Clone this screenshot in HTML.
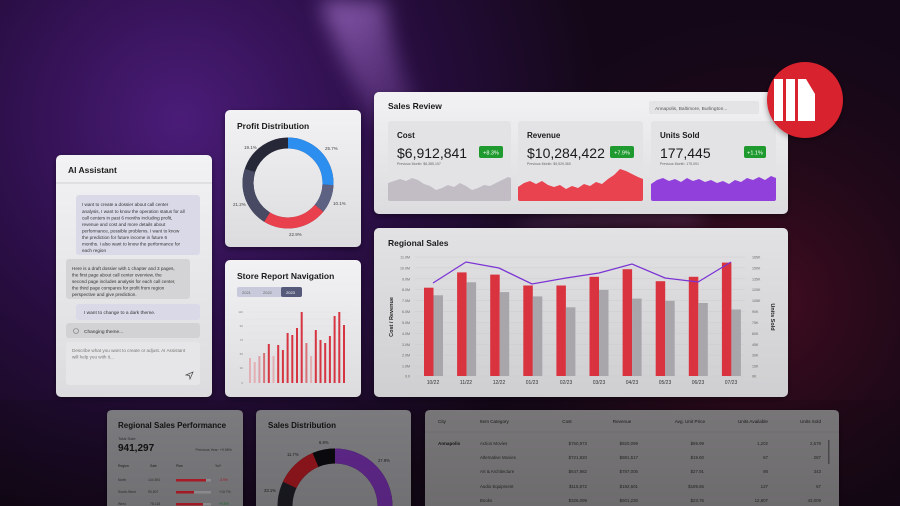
<!DOCTYPE html>
<html><head><meta charset="utf-8"><style>
html,body{margin:0;padding:0;width:900px;height:506px;overflow:hidden;background:#150816}
svg{display:block}
text{font-family:"Liberation Sans",sans-serif}
</style></head><body>
<svg width="900" height="506" viewBox="0 0 900 506" xmlns="http://www.w3.org/2000/svg">
<defs>
<radialGradient id="bgL" cx="180" cy="120" r="420" gradientUnits="userSpaceOnUse">
<stop offset="0" stop-color="#4a1c78"/><stop offset="0.5" stop-color="#2a0e45"/><stop offset="1" stop-color="#140818"/></radialGradient>
<radialGradient id="bgR" cx="760" cy="300" r="300" gradientUnits="userSpaceOnUse">
<stop offset="0" stop-color="#4a0d22" stop-opacity="0.9"/><stop offset="1" stop-color="#1a0814" stop-opacity="0"/></radialGradient>
<linearGradient id="streak" x1="0" y1="0" x2="0.6" y2="1">
<stop offset="0" stop-color="#9a6ac0" stop-opacity="0.85"/><stop offset="1" stop-color="#5a2a80" stop-opacity="0"/></linearGradient>
<filter id="blur"><feGaussianBlur stdDeviation="10"/></filter>
<filter id="sh"><feDropShadow dx="0" dy="2" stdDeviation="3" flood-color="#000" flood-opacity="0.4"/></filter>
<linearGradient id="card" x1="0" y1="0" x2="0" y2="1"><stop offset="0" stop-color="#f2f2f4"/><stop offset="1" stop-color="#dcdcdf"/></linearGradient>
<linearGradient id="card2" x1="0" y1="0" x2="0" y2="1"><stop offset="0" stop-color="#e2e2e4"/><stop offset="1" stop-color="#cfcfd2"/></linearGradient>
<linearGradient id="dim" x1="0" y1="0" x2="0" y2="1"><stop offset="0" stop-color="#000" stop-opacity="0.3"/><stop offset="1" stop-color="#000" stop-opacity="0.55"/></linearGradient>
</defs>
<rect width="900" height="506" fill="url(#bgL)"/>
<rect width="900" height="506" fill="url(#bgR)"/>
<path d="M320 0 L385 0 Q400 120 500 230 L470 235 Q360 130 320 0Z" fill="url(#streak)" filter="url(#blur)"/>
<path d="M520 225 Q600 200 700 210 L700 222 Q600 215 520 232Z" fill="#b070c0" opacity="0.35" filter="url(#blur)"/>

<!-- AI Assistant -->
<g filter="url(#sh)"><rect x="56" y="155" width="156" height="242" rx="5" fill="url(#card)"/></g>
<text x="68" y="173" font-size="8.5" font-weight="bold" fill="#1a1a1a">AI Assistant</text>
<line x1="56" y1="183" x2="212" y2="183" stroke="#d0d0d4"/>
<rect x="76" y="195" width="124" height="60" rx="3" fill="#d9d9e8"/>
<g font-size="4.6" fill="#333">
<text x="82" y="206">I want to create a dossier about call center</text>
<text x="82" y="213">analysis, I want to know the operation status for all</text>
<text x="82" y="219.5">call centers in past 6 months including profit,</text>
<text x="82" y="226">revenue and cost and more details about</text>
<text x="82" y="232.5">performance, possible problems. I want to know</text>
<text x="82" y="239">the prediction for future income in future 6</text>
<text x="82" y="245.5">months. I also want to know the performance for</text>
<text x="82" y="252">each region</text>
</g>
<rect x="66" y="259" width="124" height="40" rx="3" fill="#d4d4d6"/>
<g font-size="4.6" fill="#333">
<text x="72" y="270">Here is a draft dossier with 1 chapter and 3 pages,</text>
<text x="72" y="276.5">the first page about call center overview, the</text>
<text x="72" y="283">second page includes analysis for each call center,</text>
<text x="72" y="289.5">the third page compares for profit from region</text>
<text x="72" y="296">perspective and give prediction.</text>
</g>
<rect x="76" y="304" width="124" height="16" rx="3" fill="#d9d9e8"/>
<text x="84" y="314" font-size="4.8" fill="#333">I want to change to a dark theme.</text>
<rect x="66" y="323" width="134" height="15" rx="3" fill="#d2d2d4"/>
<circle cx="76" cy="331" r="2.5" fill="none" stroke="#777" stroke-width="0.6"/>
<text x="84" y="333" font-size="4.8" fill="#333">Changing theme...</text>
<rect x="66" y="342" width="134" height="43" rx="3" fill="#e6e6e8"/>
<text x="72" y="352" font-size="4.6" fill="#777">Describe what you want to create or adjust. AI Assistant</text>
<text x="72" y="358.5" font-size="4.6" fill="#777">will help you with it...</text>
<path d="M186 375 L193 372 L190 379 L189.5 375.5Z" fill="none" stroke="#444" stroke-width="0.7"/>

<!-- Profit Distribution -->
<g filter="url(#sh)"><rect x="225" y="110" width="136" height="137" rx="5" fill="url(#card)"/></g>
<text x="237" y="129" font-size="8.5" font-weight="bold" fill="#1a1a1a">Profit Distribution</text>
<g transform="rotate(-90 288 183)" fill="none" stroke-width="11">
<circle cx="288" cy="183" r="40" stroke="#262838"/>
<circle cx="288" cy="183" r="40" stroke="#2c8ff0" stroke-dasharray="64.6 251.3"/>
<circle cx="288" cy="183" r="40" stroke="#5d6282" stroke-dasharray="0 64.6 25.4 251.3"/>
<circle cx="288" cy="183" r="40" stroke="#e8404c" stroke-dasharray="0 90 57.6 251.3"/>
<circle cx="288" cy="183" r="40" stroke="#474a62" stroke-dasharray="0 147.6 53.3 251.3"/>
</g>
<g font-size="4.5" fill="#444">
<text x="244" y="149">19.1%</text><text x="325" y="150">25.7%</text>
<text x="233" y="206">21.2%</text><text x="333" y="205">10.1%</text><text x="289" y="236">22.9%</text>
</g>

<!-- Store Report Navigation -->
<g filter="url(#sh)"><rect x="225" y="260" width="136" height="137" rx="5" fill="url(#card)"/></g>
<text x="237" y="279" font-size="8.5" font-weight="bold" fill="#1a1a1a">Store Report Navigation</text>
<rect x="237" y="287" width="65" height="10" rx="2" fill="#c8cadb"/>
<rect x="281" y="287" width="21" height="10" rx="2" fill="#55597a"/>
<g font-size="4" fill="#666"><text x="242" y="294">2021</text><text x="263" y="294">2022</text></g>
<text x="286" y="294" font-size="4" fill="#fff">2023</text>
<g stroke="#e0e0e2" stroke-width="0.4">
<line x1="246" y1="312" x2="348" y2="312"/><line x1="246" y1="319" x2="348" y2="319"/><line x1="246" y1="326" x2="348" y2="326"/><line x1="246" y1="333" x2="348" y2="333"/><line x1="246" y1="340" x2="348" y2="340"/><line x1="246" y1="347" x2="348" y2="347"/><line x1="246" y1="354" x2="348" y2="354"/><line x1="246" y1="361" x2="348" y2="361"/><line x1="246" y1="368" x2="348" y2="368"/><line x1="246" y1="375" x2="348" y2="375"/><line x1="246" y1="383" x2="348" y2="383"/>
</g>
<g font-size="3" fill="#888" text-anchor="end">
<text x="243" y="313">110</text><text x="243" y="327">90</text><text x="243" y="341">70</text><text x="243" y="355">50</text><text x="243" y="369">30</text><text x="243" y="384">0</text>
</g>
<g>
<rect x="249" y="358" width="2" height="25" fill="#e2b0b4"/>
<rect x="253.7" y="362" width="2" height="21" fill="#e2b0b4"/>
<rect x="258.4" y="356" width="2" height="27" fill="#dca0a6"/>
<rect x="263.1" y="353" width="2" height="30" fill="#d87078"/>
<rect x="267.8" y="344" width="2" height="39" fill="#d63440"/>
<rect x="272.5" y="356" width="2" height="27" fill="#e2b0b4"/>
<rect x="277.2" y="345" width="2" height="38" fill="#d63440"/>
<rect x="281.9" y="350" width="2" height="33" fill="#d63440"/>
<rect x="286.6" y="333" width="2" height="50" fill="#d63440"/>
<rect x="291.3" y="335" width="2" height="48" fill="#d63440"/>
<rect x="296" y="328" width="2" height="55" fill="#d63440"/>
<rect x="300.7" y="312" width="2" height="71" fill="#d63440"/>
<rect x="305.4" y="343" width="2" height="40" fill="#d87078"/>
<rect x="310.1" y="356" width="2" height="27" fill="#e2b0b4"/>
<rect x="314.8" y="330" width="2" height="53" fill="#d63440"/>
<rect x="319.5" y="340" width="2" height="43" fill="#d63440"/>
<rect x="324.2" y="343" width="2" height="40" fill="#d63440"/>
<rect x="328.9" y="336" width="2" height="47" fill="#d63440"/>
<rect x="333.6" y="316" width="2" height="67" fill="#d63440"/>
<rect x="338.3" y="312" width="2" height="71" fill="#d63440"/>
<rect x="343" y="325" width="2" height="58" fill="#d63440"/>
</g>

<!-- Sales Review -->
<g filter="url(#sh)"><rect x="374" y="92" width="414" height="122" rx="5" fill="url(#card)"/></g>
<text x="388" y="109" font-size="8.5" font-weight="bold" fill="#1a1a1a">Sales Review</text>
<rect x="649" y="101" width="110" height="13" rx="2" fill="#e4e4e6"/>
<text x="655" y="110" font-size="4.8" fill="#555">Annapolis, Baltimore, Burlington...</text>
<rect x="388" y="121" width="123" height="80" rx="3" fill="#e3e3e6"/>
<rect x="518" y="121" width="125" height="80" rx="3" fill="#e3e3e6"/>
<rect x="651" y="121" width="125" height="80" rx="3" fill="#e3e3e6"/>
<g font-size="8" font-weight="bold" fill="#1a1a1a"><text x="397" y="138">Cost</text><text x="527" y="138">Revenue</text><text x="660" y="138">Units Sold</text></g>
<g font-size="14" fill="#1a1a1a"><text x="397" y="158">$6,912,841</text><text x="527" y="158">$10,284,422</text><text x="660" y="158">177,445</text></g>
<g font-size="3.5" fill="#666"><text x="397" y="165">Previous Month: $6,385,107</text><text x="527" y="165">Previous Month: $9,529,360</text><text x="660" y="165">Previous Month: 175,091</text></g>
<rect x="479" y="146" width="24" height="12" rx="2" fill="#1e9a2e"/><text x="491" y="154.5" font-size="5.5" fill="#fff" text-anchor="middle">+8.3%</text>
<rect x="610" y="146" width="24" height="12" rx="2" fill="#1e9a2e"/><text x="622" y="154.5" font-size="5.5" fill="#fff" text-anchor="middle">+7.9%</text>
<rect x="744" y="146" width="22" height="12" rx="2" fill="#1e9a2e"/><text x="755" y="154.5" font-size="5.5" fill="#fff" text-anchor="middle">+1.1%</text>
<path d="M388 183 L394 181 L400 179 L406 181 L412 178 L418 180 L424 184 L430 186 L436 190 L442 188 L448 185 L454 187 L460 183 L466 186 L472 190 L478 188 L484 185 L490 186 L496 183 L502 180 L508 177 L511 178 L511 199 Q511 201 509 201 L390 201 Q388 201 388 199Z" fill="#c2bcc4"/>
<path d="M518 187 L524 183 L530 181 L536 184 L542 181 L548 185 L554 187 L560 185 L566 189 L572 186 L578 188 L584 184 L590 186 L596 182 L602 184 L608 179 L614 175 L620 169 L626 171 L632 174 L638 177 L643 179 L643 199 Q643 201 641 201 L520 201 Q518 201 518 199Z" fill="#e8434f"/>
<path d="M651 184 L657 180 L663 178 L669 181 L675 179 L681 182 L687 178 L693 181 L699 179 L705 182 L711 180 L717 183 L723 181 L729 184 L735 180 L741 182 L747 178 L753 180 L759 177 L765 180 L771 176 L776 178 L776 199 Q776 201 774 201 L653 201 Q651 201 651 199Z" fill="#9140dc"/>

<!-- Logo -->
<circle cx="805" cy="100" r="38" fill="#d8202e" filter="url(#sh)"/>
<rect x="774" y="79" width="9" height="42" fill="#fff"/>
<rect x="786" y="79" width="9" height="42" fill="#fff"/>
<path d="M798 79 L806 79 L815 94 L815 121 L798 121Z" fill="#fff"/>

<!-- Regional Sales -->
<g filter="url(#sh)"><rect x="374" y="228" width="414" height="169" rx="5" fill="url(#card2)"/></g>
<text x="388" y="246" font-size="8.5" font-weight="bold" fill="#1a1a1a">Regional Sales</text>
<g stroke="#c9c9cc" stroke-width="0.4">
<line x1="415" y1="257" x2="745" y2="257"/><line x1="415" y1="267.9" x2="745" y2="267.9"/><line x1="415" y1="278.8" x2="745" y2="278.8"/><line x1="415" y1="289.7" x2="745" y2="289.7"/><line x1="415" y1="300.6" x2="745" y2="300.6"/><line x1="415" y1="311.5" x2="745" y2="311.5"/><line x1="415" y1="322.5" x2="745" y2="322.5"/><line x1="415" y1="333.4" x2="745" y2="333.4"/><line x1="415" y1="344.3" x2="745" y2="344.3"/><line x1="415" y1="355.2" x2="745" y2="355.2"/><line x1="415" y1="366.1" x2="745" y2="366.1"/><line x1="415" y1="376" x2="745" y2="376"/>
</g>
<g font-size="3.6" fill="#666" text-anchor="end">
<text x="410" y="258.5">11.0M</text><text x="410" y="269.4">10.0M</text><text x="410" y="280.3">9.0M</text><text x="410" y="291.2">8.0M</text><text x="410" y="302.1">7.0M</text><text x="410" y="313">6.0M</text><text x="410" y="324">5.0M</text><text x="410" y="334.9">4.0M</text><text x="410" y="345.8">3.0M</text><text x="410" y="356.7">2.0M</text><text x="410" y="367.6">1.0M</text><text x="410" y="377.5">0.0</text>
</g>
<g font-size="3.6" fill="#666">
<text x="752" y="258.5">165K</text><text x="752" y="269.4">150K</text><text x="752" y="280.3">135K</text><text x="752" y="291.2">120K</text><text x="752" y="302.1">105K</text><text x="752" y="313">90K</text><text x="752" y="324">75K</text><text x="752" y="334.9">60K</text><text x="752" y="345.8">45K</text><text x="752" y="356.7">30K</text><text x="752" y="367.6">15K</text><text x="752" y="377.5">0K</text>
</g>
<text transform="translate(393 317) rotate(-90)" font-size="5.5" font-weight="bold" fill="#222" text-anchor="middle">Cost / Revenue</text>
<text transform="translate(771 317) rotate(90)" font-size="5.5" font-weight="bold" fill="#222" text-anchor="middle">Units Sold</text>
<g fill="#d9333f">
<rect x="424" y="287.7" width="9.5" height="88.3"/><rect x="457.1" y="272.4" width="9.5" height="103.6"/><rect x="490.2" y="274.6" width="9.5" height="101.4"/><rect x="523.3" y="285.5" width="9.5" height="90.5"/><rect x="556.4" y="285.5" width="9.5" height="90.5"/><rect x="589.5" y="276.8" width="9.5" height="99.2"/><rect x="622.6" y="269.2" width="9.5" height="106.8"/><rect x="655.7" y="281.2" width="9.5" height="94.8"/><rect x="688.8" y="276.8" width="9.5" height="99.2"/><rect x="721.9" y="262.6" width="9.5" height="113.4"/>
</g>
<g fill="#a8a5ab">
<rect x="433.5" y="295.3" width="9.5" height="80.7"/><rect x="466.6" y="282.3" width="9.5" height="93.7"/><rect x="499.7" y="292.1" width="9.5" height="83.9"/><rect x="532.8" y="296.4" width="9.5" height="79.6"/><rect x="565.9" y="307.3" width="9.5" height="68.7"/><rect x="599" y="289.9" width="9.5" height="86.1"/><rect x="632.1" y="298.6" width="9.5" height="77.4"/><rect x="665.2" y="300.8" width="9.5" height="75.2"/><rect x="698.3" y="303" width="9.5" height="73"/><rect x="731.4" y="309.5" width="9.5" height="66.5"/>
</g>
<polyline points="433,283 466,262 499,268 532,284 566,278 599,273 632,264 665,278 698,282 731,262" fill="none" stroke="#7b34d4" stroke-width="1.3"/>
<g font-size="5" fill="#333" text-anchor="middle">
<text x="433" y="384">10/22</text><text x="466" y="384">11/22</text><text x="499" y="384">12/22</text><text x="532" y="384">01/23</text><text x="566" y="384">02/23</text><text x="599" y="384">03/23</text><text x="632" y="384">04/23</text><text x="665" y="384">05/23</text><text x="698" y="384">06/23</text><text x="731" y="384">07/23</text>
</g>

<!-- Bottom cards -->
<g filter="url(#sh)">
<path d="M107 506 L107 415 Q107 410 112 410 L238 410 Q243 410 243 415 L243 506Z" fill="#8b8a8e"/>
<path d="M256 506 L256 415 Q256 410 261 410 L406 410 Q411 410 411 415 L411 506Z" fill="#8b8a8e"/>
<path d="M425 506 L425 415 Q425 410 430 410 L834 410 Q839 410 839 415 L839 506Z" fill="#878587"/>
</g>
<text x="118" y="428" font-size="8" font-weight="bold" fill="#141414">Regional Sales Performance</text>
<text x="118" y="440" font-size="4" fill="#333">Total Sale</text>
<text x="118" y="451" font-size="10" font-weight="bold" fill="#141414">941,297</text>
<text x="232" y="451" font-size="3.6" fill="#333" text-anchor="end">Previous Year: +9.98%</text>
<g font-size="3.4" fill="#222"><text x="118" y="467">Region</text><text x="150" y="467">Sale</text><text x="176" y="467">Plan</text><text x="215" y="467">YoY</text></g>
<g font-size="3.4" fill="#333"><text x="118" y="481">North</text><text x="118" y="493">South-West</text><text x="118" y="505">West</text>
<text x="148" y="481">144,591</text><text x="148" y="493">90,507</text><text x="150" y="505">78,118</text></g>
<rect x="176" y="479" width="35" height="2.5" fill="#a8a8ab"/><rect x="176" y="479" width="30" height="2.5" fill="#c8202c"/>
<rect x="176" y="491" width="35" height="2.5" fill="#a8a8ab"/><rect x="176" y="491" width="18" height="2.5" fill="#c8202c"/>
<rect x="176" y="503" width="35" height="2.5" fill="#a8a8ab"/><rect x="176" y="503" width="27" height="2.5" fill="#c8202c"/>
<g font-size="3.4"><text x="219" y="481" fill="#c02030">-3.9%</text><text x="219" y="493" fill="#333">+10.7%</text><text x="219" y="505" fill="#208030">+9.5%</text></g>

<text x="268" y="428" font-size="8" font-weight="bold" fill="#141414">Sales Distribution</text>
<g transform="rotate(-90 335 506)" fill="none" stroke-width="15">
<circle cx="335" cy="506" r="50" stroke="#1c1c24"/>
<circle cx="335" cy="506" r="50" stroke="#6a2c9a" stroke-dasharray="0 0 120 314"/>
<circle cx="335" cy="506" r="50" stroke="#a01820" stroke-dasharray="0 257 36.7 314"/>
<circle cx="335" cy="506" r="50" stroke="#0c0c10" stroke-dasharray="0 293.7 21.7 314"/>
</g>
<g font-size="4.2" fill="#222"><text x="319" y="444">6.9%</text><text x="287" y="456">11.7%</text><text x="378" y="462">27.9%</text><text x="264" y="492">33.1%</text></g>

<g font-size="4.6" fill="#1a1a1a">
<text x="438" y="423">City</text><text x="480" y="423">Item Category</text>
<text x="567" y="423" text-anchor="middle">Cost</text><text x="622" y="423" text-anchor="middle">Revenue</text>
<text x="705" y="423" text-anchor="end">Avg. Unit Price</text><text x="768" y="423" text-anchor="end">Units Available</text><text x="821" y="423" text-anchor="end">Units Sold</text>
</g>
<line x1="425" y1="432" x2="839" y2="432" stroke="#777" stroke-width="0.5"/>
<text x="438" y="445" font-size="4.6" font-weight="bold" fill="#1a1a1a">Annapolis</text>
<g font-size="4.4" fill="#2a2a2a">
<text x="480" y="445">Action Movies</text><text x="480" y="459">Alternative Movies</text><text x="480" y="473">Art &amp; Architecture</text><text x="480" y="488">Audio Equipment</text><text x="480" y="502">Books</text>
</g>
<g font-size="4.4" fill="#2a2a2a" text-anchor="end">
<text x="587" y="445">$760,973</text><text x="587" y="459">$721,820</text><text x="587" y="473">$647,982</text><text x="587" y="488">$115,872</text><text x="587" y="502">$326,099</text>
<text x="638" y="445">$820,099</text><text x="638" y="459">$881,517</text><text x="638" y="473">$787,005</text><text x="638" y="488">$192,601</text><text x="638" y="502">$601,230</text>
<text x="704" y="445">$69.99</text><text x="704" y="459">$19.60</text><text x="704" y="473">$27.91</text><text x="704" y="488">$189.65</text><text x="704" y="502">$23.76</text>
<text x="768" y="445">1,202</text><text x="768" y="459">67</text><text x="768" y="473">98</text><text x="768" y="488">127</text><text x="768" y="502">12,807</text>
<text x="821" y="445">2,679</text><text x="821" y="459">287</text><text x="821" y="473">343</text><text x="821" y="488">67</text><text x="821" y="502">43,009</text>
</g>
<rect x="828" y="440" width="1.5" height="24" fill="#555"/>
<rect x="0" y="400" width="900" height="106" fill="url(#dim)" opacity="0.35"/>
</svg>
</body></html>
